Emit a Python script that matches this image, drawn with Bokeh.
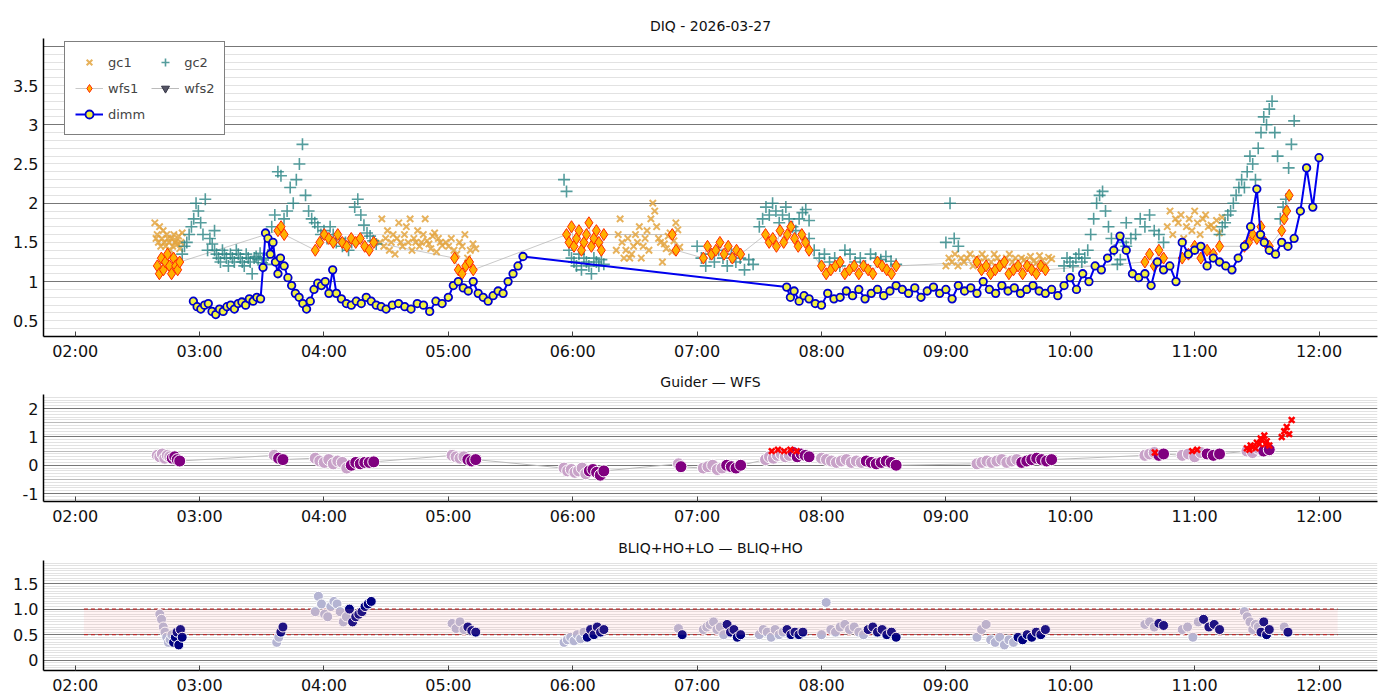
import numpy as np
from bokeh.plotting import figure
from bokeh.layouts import column
from bokeh.models import FixedTicker, Grid, Legend, LegendItem, Range1d, BoxAnnotation, Spacer
from bokeh.embed import file_html
from bokeh.resources import INLINE

# ---------------- data (hours UT, values) ----------------
hour_ticks = [2, 3, 4, 5, 6, 7, 8, 9, 10, 11, 12]
hour_labels = ["02:00", "03:00", "04:00", "05:00", "06:00", "07:00", "08:00", "09:00", "10:00", "11:00", "12:00"]

gc1_segments = [
    (2.64, 2.86, [1.75, 1.55, 1.6, 1.5, 1.7, 1.45, 1.55, 1.65, 1.5, 1.45, 1.6, 1.55, 1.5, 1.4, 1.55, 1.45, 1.6, 1.5,
                  1.52, 1.48, 1.58, 1.42, 1.5, 1.62]),
    (4.45, 4.95, [1.5, 1.8, 1.45, 1.55, 1.65, 1.4, 1.5, 1.6, 1.35, 1.55, 1.75, 1.5, 1.45, 1.6, 1.7, 1.5, 1.8, 1.4, 1.55, 1.5,
                  1.65, 1.45, 1.5, 1.6, 1.8, 1.52, 1.48, 1.42, 1.58, 1.62, 1.38, 1.55, 1.5, 1.46]),
    (4.98, 5.22, [1.5, 1.45, 1.55, 1.4, 1.35, 1.5, 1.45, 1.6, 1.3, 1.4, 1.48, 1.42]),
    (6.35, 6.86, [1.4, 1.6, 1.8, 1.5, 1.3, 1.4, 1.55, 1.3, 1.35, 1.45, 1.6, 1.5, 1.7, 1.3, 1.45, 1.55, 1.65, 1.4, 1.8, 2.0,
                  1.9, 1.7, 1.55, 1.5, 1.25, 1.48, 1.42, 1.58, 1.62, 1.38, 1.52, 1.75, 1.66, 1.44]),
    (9.0, 9.85, [1.2, 1.3, 1.25, 1.35, 1.2, 1.3, 1.25, 1.3, 1.35, 1.2, 1.3, 1.25, 1.35, 1.3, 1.2, 1.25, 1.35, 1.3, 1.25, 1.2,
                 1.3, 1.35, 1.25, 1.3, 1.2, 1.3, 1.28, 1.22, 1.32, 1.26, 1.24, 1.33, 1.27, 1.21, 1.31, 1.29]),
    (10.78, 11.22, [1.7, 1.9, 1.6, 1.8, 1.75, 1.85, 1.55, 1.7, 1.8, 1.65, 1.9, 1.75, 1.6, 1.8, 1.85, 1.7, 1.72, 1.68,
                    1.78, 1.62, 1.82]),
]
gc2_segments = [
    (2.86, 3.12, [1.35, 1.45, 1.5, 1.6, 1.7, 1.8, 2.0, 1.9, 1.75, 1.6, 2.05, 1.4, 1.55, 1.48, 1.65]),
    (3.12, 3.55, [1.4, 1.35, 1.3, 1.25, 1.4, 1.35, 1.3, 1.2, 1.35, 1.3, 1.25, 1.4, 1.35, 1.3, 1.25, 1.2, 1.35, 1.3, 1.25,
                  1.1, 1.3, 1.32, 1.28, 1.36, 1.24, 1.3, 1.22, 1.34]),
    (3.58, 4.42, [1.7, 1.85, 2.4, 2.35, 1.8, 1.9, 2.2, 2.0, 2.3, 2.5, 2.75, 2.1, 1.9, 1.8, 1.75, 1.7, 1.6, 1.65, 1.55, 1.7,
                  1.6, 1.5, 1.55, 1.45, 1.5, 1.4, 1.5, 1.95, 2.05, 1.85, 1.72, 1.62, 1.58, 1.52, 1.48]),
    (5.93, 6.25, [2.3, 2.15, 1.4, 1.3, 1.25, 1.2, 1.35, 1.15, 1.3, 1.25, 1.2, 1.1, 1.3, 1.25, 1.2, 1.28, 1.22]),
    (7.0, 7.45, [1.45, 1.3, 1.2, 1.35, 1.25, 1.4, 1.3, 1.2, 1.35, 1.25, 1.3, 1.15, 1.28, 1.22]),
    (7.5, 7.9, [1.7, 1.8, 1.95, 1.85, 2.0, 1.9, 1.75, 1.85, 1.95, 1.8, 1.7, 1.65, 1.8, 1.88, 1.92, 1.78]),
    (7.9, 8.6, [1.55, 1.4, 1.3, 1.35, 1.25, 1.3, 1.2, 1.4, 1.35, 1.25, 1.3, 1.2, 1.35, 1.3, 1.28, 1.32, 1.26, 1.22]),
    (9.0, 9.1, [1.5, 2.0, 1.55, 1.45]),
    (9.95, 10.45, [1.2, 1.3, 1.25, 1.2, 1.3, 1.35, 1.25, 1.3, 1.4, 1.6, 1.8, 2.0, 2.1, 2.15, 1.9, 1.7, 1.55, 1.4, 1.22,
                   1.28, 1.5, 1.75]),
    (10.45, 10.75, [1.45, 1.55, 1.6, 1.8, 1.7, 1.85, 1.65, 1.6, 1.5]),
    (11.2, 11.8, [1.6, 1.7, 1.75, 1.85, 1.9, 2.0, 2.1, 2.2, 2.3, 2.2, 2.4, 2.6, 2.5, 2.3, 2.7, 2.9, 3.1, 3.0, 3.2, 3.3,
                  2.9, 2.6, 1.8, 1.95, 2.05, 2.45, 2.75, 3.05]),
]
wfs1_segments = [
    (2.66, 2.84, [1.2, 1.1, 1.3, 1.15, 1.25, 1.35, 1.2, 1.1, 1.3, 1.2, 1.15, 1.25]),
    (3.63, 3.68, [1.65, 1.7, 1.6]),
    (3.93, 4.4, [1.4, 1.5, 1.6, 1.55, 1.5, 1.6, 1.5, 1.45, 1.55, 1.5, 1.55, 1.45, 1.4, 1.5]),
    (5.05, 5.2, [1.3, 1.15, 1.1, 1.2, 1.25, 1.15]),
    (5.95, 6.25, [1.6, 1.5, 1.7, 1.45, 1.55, 1.65, 1.4, 1.5, 1.6, 1.75, 1.45, 1.55, 1.65, 1.5, 1.4, 1.6]),
    (6.8, 6.83, [1.6, 1.4]),
    (7.05, 7.35, [1.3, 1.45, 1.35, 1.4, 1.5, 1.35, 1.45, 1.3, 1.4, 1.35]),
    (7.55, 7.9, [1.6, 1.5, 1.55, 1.45, 1.65, 1.5, 1.6, 1.7, 1.55, 1.45, 1.6, 1.5, 1.4]),
    (8.0, 8.6, [1.2, 1.1, 1.15, 1.2, 1.25, 1.1, 1.15, 1.2, 1.1, 1.2, 1.15, 1.1, 1.25, 1.2, 1.15, 1.1, 1.2]),
    (9.25, 9.8, [1.25, 1.15, 1.2, 1.1, 1.15, 1.2, 1.25, 1.1, 1.15, 1.2, 1.1, 1.2, 1.15, 1.1, 1.2, 1.15]),
    (10.6, 10.75, [1.25, 1.35, 1.2, 1.4, 1.3]),
    (10.9, 11.2, [1.3, 1.35, 1.45, 1.3, 1.4, 1.35, 1.45]),
    (11.4, 11.6, [1.45, 1.5, 1.6, 1.55, 1.7, 1.5, 1.45]),
    (11.7, 11.76, [1.65, 1.8, 1.9, 2.1]),
]
dimm_t = [2.95, 2.98, 3.01, 3.04, 3.07, 3.1, 3.13, 3.16, 3.19, 3.22, 3.25, 3.28, 3.31, 3.34, 3.37, 3.4, 3.43, 3.46, 3.49, 3.51, 3.53,
          3.55, 3.57, 3.59, 3.61, 3.63, 3.65, 3.68, 3.71, 3.74, 3.77, 3.8, 3.83, 3.86, 3.89, 3.92, 3.95, 3.98, 4.01, 4.04, 4.07,
          4.1, 4.14, 4.18, 4.22, 4.26, 4.3, 4.34, 4.38, 4.42, 4.46, 4.5, 4.55, 4.6, 4.65, 4.7, 4.75, 4.8, 4.85, 4.9, 4.95,
          5.0, 5.04, 5.08, 5.12, 5.16, 5.2, 5.24, 5.28, 5.32, 5.36, 5.4, 5.44, 5.48, 5.52, 5.56, 5.6,
          7.72, 7.75, 7.78, 7.82, 7.86, 7.9, 7.95, 8.0, 8.05, 8.1, 8.15, 8.2, 8.25, 8.3, 8.35, 8.4, 8.45, 8.5, 8.55, 8.6,
          8.65, 8.7, 8.75, 8.8, 8.85, 8.9, 8.95, 9.0, 9.05, 9.1, 9.15, 9.2, 9.25, 9.3, 9.35, 9.4, 9.45, 9.5, 9.55, 9.6,
          9.65, 9.7, 9.75, 9.8, 9.85, 9.9, 9.95, 10.0, 10.05, 10.1, 10.15, 10.2, 10.25, 10.3, 10.35, 10.4, 10.45, 10.5,
          10.55, 10.6, 10.65, 10.7, 10.75, 10.8, 10.85, 10.9, 10.95, 11.0, 11.05, 11.1, 11.15, 11.2, 11.25, 11.3, 11.35,
          11.4, 11.45, 11.5, 11.53, 11.56, 11.6, 11.65, 11.7, 11.75, 11.8, 11.85, 11.9, 11.95, 12.0]
dimm_v = [0.75, 0.68, 0.65, 0.7, 0.72, 0.62, 0.58, 0.65, 0.62, 0.68, 0.7, 0.65, 0.72, 0.74, 0.7, 0.78, 0.75, 0.8, 0.78, 1.18, 1.62,
          1.55, 1.35, 1.5, 1.25, 1.1, 1.3, 1.2, 1.05, 0.95, 0.85, 0.8, 0.72, 0.65, 0.75, 0.9, 0.98, 0.95, 1.0, 0.85, 1.15,
          0.85, 0.78, 0.72, 0.7, 0.75, 0.72, 0.8, 0.75, 0.7, 0.68, 0.65, 0.7, 0.72, 0.68, 0.65, 0.72, 0.7, 0.62, 0.75, 0.72,
          0.8, 0.95, 1.0, 0.92, 0.88, 1.0, 0.85, 0.8, 0.75, 0.82, 0.88, 0.85, 1.0, 1.1, 1.2, 1.32,
          0.93, 0.8, 0.88, 0.75, 0.82, 0.78, 0.72, 0.7, 0.85, 0.78, 0.8, 0.88, 0.82, 0.9, 0.78, 0.85, 0.9, 0.82, 0.88, 0.95,
          0.9, 0.85, 0.92, 0.8, 0.88, 0.93, 0.85, 0.9, 0.78, 0.95, 0.88, 0.92, 0.85, 1.0, 0.9, 0.85, 0.95, 0.88, 0.92, 0.85,
          0.9, 0.95, 0.88, 0.85, 0.9, 0.82, 0.95, 1.05, 0.9, 1.1, 1.0, 1.2, 1.15, 1.3, 1.4, 1.58, 1.4, 1.1,
          1.05, 1.1, 0.95, 1.25, 1.15, 1.2, 1.0, 1.5, 1.35, 1.4, 1.45, 1.2, 1.3, 1.25, 1.2, 1.15, 1.3,
          1.45, 1.7, 2.18, 1.6, 1.5, 1.4, 1.35, 1.5, 1.45, 1.55, 1.9, 2.45, 1.95, 2.58]

gw_segments = [
    (2.66, 2.84, [0.35, 0.3, 0.4, 0.25, 0.35, 0.3, 0.25, 0.3, 0.2, 0.15]),
    (3.6, 3.67, [0.35, 0.25, 0.2]),
    (3.93, 4.4, [0.25, 0.15, 0.1, 0.2, 0.05, 0.15, 0.1, -0.1, 0.0, 0.1, 0.05, 0.1, 0.1, 0.12]),
    (5.03, 5.22, [0.35, 0.3, 0.25, 0.3, 0.2, 0.15, 0.2]),
    (5.93, 6.25, [-0.1, -0.2, -0.15, -0.25, -0.2, -0.1, -0.3, -0.2, -0.15, -0.25, -0.35, -0.2]),
    (6.85, 6.87, [0.05, -0.05]),
    (7.05, 7.35, [-0.1, -0.05, 0.0, -0.15, -0.1, 0.0, -0.05, -0.1, 0.0]),
    (7.55, 7.9, [0.2, 0.3, 0.25, 0.35, 0.4, 0.3, 0.35, 0.45, 0.3, 0.4, 0.35, 0.3]),
    (8.0, 8.6, [0.25, 0.2, 0.15, 0.1, 0.15, 0.2, 0.1, 0.15, 0.1, 0.15, 0.1, 0.05, 0.1, 0.15, 0.1, 0.0]),
    (9.25, 9.85, [0.05, 0.1, 0.15, 0.1, 0.15, 0.2, 0.1, 0.15, 0.2, 0.1, 0.15, 0.2, 0.25, 0.2, 0.15, 0.2]),
    (10.6, 10.75, [0.35, 0.4, 0.45, 0.35, 0.4]),
    (10.9, 11.2, [0.35, 0.4, 0.3, 0.45, 0.4, 0.35, 0.4]),
    (11.42, 11.6, [0.5, 0.45, 0.6, 0.5, 0.55]),
]
gw_red_t = [7.6, 7.65, 7.7, 7.75, 7.8, 10.68, 10.98, 11.02, 11.42, 11.45, 11.47, 11.5, 11.52, 11.54, 11.56, 11.58, 11.6,
            11.44, 11.49, 11.53, 11.57, 11.7, 11.72, 11.74, 11.76, 11.78]
gw_red_v = [0.5, 0.55, 0.5, 0.55, 0.5, 0.45, 0.5, 0.55, 0.6, 0.7, 0.65, 0.8, 0.75, 0.9, 1.05, 0.85, 0.7,
            0.55, 0.6, 0.95, 0.75, 1.0, 1.2, 1.35, 1.1, 1.6]

bq_segments = [
    (2.68, 2.86, [0.9, 0.8, 0.65, 0.55, 0.45, 0.35, 0.4, 0.5, 0.35, 0.45, 0.55, 0.3, 0.6, 0.45]),
    (3.62, 3.67, [0.35, 0.45, 0.55, 0.65]),
    (3.93, 4.38, [0.95, 1.25, 1.1, 0.9, 0.85, 1.05, 1.15, 1.1, 0.95, 0.75, 0.85, 1.0, 0.75, 0.85, 0.9, 0.95, 1.05, 1.1, 1.15]),
    (5.03, 5.22, [0.72, 0.62, 0.75, 0.6, 0.65, 0.58, 0.55]),
    (5.93, 6.25, [0.35, 0.4, 0.45, 0.38, 0.5, 0.42, 0.55, 0.45, 0.6, 0.5, 0.65, 0.55, 0.6]),
    (6.85, 6.88, [0.62, 0.5]),
    (7.05, 7.35, [0.6, 0.65, 0.7, 0.75, 0.6, 0.65, 0.5, 0.7, 0.55, 0.6, 0.45, 0.5]),
    (7.5, 7.85, [0.5, 0.6, 0.55, 0.45, 0.6, 0.5, 0.55, 0.6, 0.5, 0.55, 0.5, 0.55]),
    (8.0, 8.6, [0.5, 1.13, 0.6, 0.55, 0.65, 0.7, 0.6, 0.65, 0.55, 0.5, 0.6, 0.65, 0.55, 0.6, 0.5, 0.55, 0.45]),
    (9.25, 9.8, [0.45, 0.6, 0.7, 0.4, 0.35, 0.45, 0.3, 0.4, 0.35, 0.45, 0.4, 0.5, 0.45, 0.55, 0.5, 0.6]),
    (10.6, 10.75, [0.7, 0.75, 0.65, 0.72, 0.68]),
    (10.9, 11.2, [0.6, 0.65, 0.45, 0.75, 0.8, 0.65, 0.7, 0.6]),
    (11.4, 11.6, [0.95, 0.85, 0.75, 0.6, 0.7, 0.65, 0.55, 0.75, 0.5, 0.6]),
    (11.72, 11.75, [0.65, 0.55]),
]
band_lo, band_hi = 0.5, 1.0
band_t0, band_t1 = 2.07, 12.15


def flatten(segments):
    ts, vs = [], []
    for t0, t1, vals in segments:
        ts.extend(np.linspace(t0, t1, len(vals)))
        vs.extend(vals)
    return ts, vs


def shade(segments, light, dark):
    cols = []
    for t0, t1, vals in segments:
        n = len(vals)
        cols.extend([light if i < max(1, int(n * 0.6)) else dark for i in range(n)])
    return cols


FONT = "DejaVu Sans"


def style(p, ymajor, yminor, ygrid_dark, ygrid_mid, ylabels):
    p.x_range = Range1d(1.745, 12.47)
    p.xaxis.ticker = FixedTicker(ticks=hour_ticks)
    p.xaxis.major_label_overrides = {t: l for t, l in zip(hour_ticks, hour_labels)}
    p.yaxis.ticker = FixedTicker(ticks=ymajor)
    if ylabels:
        p.yaxis.major_label_overrides = ylabels
    for ax in (p.xaxis, p.yaxis):
        ax.major_label_text_font = FONT
        ax.major_label_text_font_size = "16px"
        ax.major_label_text_color = "#111111"
        ax.minor_tick_line_color = None
        ax.axis_line_color = "black"
        ax.axis_line_width = 1.5
        ax.major_tick_out = 0
    p.xaxis.major_tick_in = 5
    p.xaxis.major_tick_line_color = "#444444"
    p.yaxis.major_tick_in = 0
    p.xgrid.grid_line_color = None
    p.ygrid.grid_line_color = None
    p.add_layout(Grid(dimension=1, ticker=FixedTicker(ticks=yminor), grid_line_color="#e2e2e2", grid_line_width=1), "center")
    p.add_layout(Grid(dimension=1, ticker=FixedTicker(ticks=ygrid_mid), grid_line_color="#bbbbbb", grid_line_width=1), "center")
    p.add_layout(Grid(dimension=1, ticker=FixedTicker(ticks=ygrid_dark), grid_line_color="#777777", grid_line_width=1.2), "center")
    p.outline_line_color = None
    p.title.align = "center"
    p.title.text_font = FONT
    p.title.text_font_size = "14px"
    p.title.text_font_style = "normal"
    p.title.text_color = "#111111"


common = dict(output_backend="svg", toolbar_location=None, frame_width=1334,
              min_border_left=43, min_border_right=6, background_fill_color="white")

# ---------------- panel 1 ----------------
p1 = figure(title="DIQ - 2026-03-27", frame_height=298, min_border_top=10, min_border_bottom=10,
            y_range=Range1d(0.3, 4.1), **common)
style(p1, [0.5, 1, 1.5, 2, 2.5, 3, 3.5], list(np.round(np.arange(0.3, 4.11, 0.1), 2)),
      [1, 2, 3, 4], [], {0.5: "0.5", 1: "1", 1.5: "1.5", 2: "2", 2.5: "2.5", 3: "3", 3.5: "3.5"})

g1t, g1v = flatten(gc1_segments)
g2t, g2v = flatten(gc2_segments)
w1t, w1v = flatten(wfs1_segments)

r_line = p1.line(w1t, w1v, line_color="#aaaaaa", line_width=0.8, line_alpha=0.8)
r_gc1 = p1.scatter(g1t, g1v, marker="x", size=9, line_color="#e3a540", line_width=2, line_alpha=0.85)
r_gc2 = p1.scatter(g2t, g2v, marker="cross", size=12, line_color="#2a8585", line_width=1.6, line_alpha=0.8)
r_w1 = p1.scatter(w1t, w1v, marker="diamond", size=12, fill_color="#ffb000", line_color="#ff2a00", line_width=1)
r_w2l = p1.line([0, 0.1], [-5, -5], line_color="#aaaaaa", line_width=0.8)
r_w2 = p1.scatter([0], [-5], marker="inverted_triangle", size=9, fill_color="#555566", line_color="#333344")
r_dl = p1.line(dimm_t, dimm_v, line_color="#0000ee", line_width=2)
r_dm = p1.scatter(dimm_t, dimm_v, marker="circle", size=7.5, fill_color="#f0f040", line_color="#0000cc", line_width=1.8)

legend = Legend(items=[
    LegendItem(label="gc1", renderers=[r_gc1]),
    LegendItem(label="wfs1", renderers=[r_line, r_w1]),
    LegendItem(label="dimm", renderers=[r_dl, r_dm]),
    LegendItem(label="gc2", renderers=[r_gc2]),
    LegendItem(label="wfs2", renderers=[r_w2l, r_w2]),
], ncols=2, location=(21, 201), border_line_color="black", border_line_width=1.2,
    label_text_font=FONT, label_text_font_size="13px", background_fill_alpha=1,
    margin=0, padding=10, spacing=6, glyph_width=28, label_height=20, label_standoff=5)
p1.add_layout(legend)

# ---------------- panel 2 ----------------
p2 = figure(title="Guider \u2014 WFS", frame_height=107, min_border_top=10, min_border_bottom=8,
            y_range=Range1d(-1.28, 2.5), **common)
style(p2, [-1, 0, 1, 2], list(np.round(np.arange(-1.2, 2.51, 0.1), 2)), [-1, 0, 1, 2], [-0.5, 0.5, 1.5],
      {-1: "-1", 0: "0", 1: "1", 2: "2"})
gwt, gwv = flatten(gw_segments)
p2.line(gwt, gwv, line_color="#bbbbbb", line_width=1)
p2.scatter(gwt, gwv, marker="circle", size=12, fill_color=shade(gw_segments, "#c8a2c8", "#800080"),
           line_color="white", line_width=1)
p2.scatter(gw_red_t, gw_red_v, marker="x", size=8, line_color="#ff0000", line_width=2.5)

# ---------------- panel 3 ----------------
p3 = figure(title="BLIQ+HO+LO \u2014 BLIQ+HO", frame_height=110, min_border_top=10, min_border_bottom=4,
            y_range=Range1d(-0.2, 1.95), **common)
style(p3, [0, 0.5, 1.0, 1.5], list(np.round(np.arange(-0.2, 1.96, 0.05), 2)), [0, 0.5, 1.0, 1.5], [],
      {0: "0", 0.5: "0.5", 1.0: "1.0", 1.5: "1.5"})
p3.add_layout(BoxAnnotation(left=band_t0, right=band_t1, bottom=band_lo, top=band_hi,
                            fill_color="#ff9999", fill_alpha=0.12, line_color=None))
p3.segment([band_t0, band_t0], [band_lo, band_hi], [band_t1, band_t1], [band_lo, band_hi],
           line_color="#b22222", line_dash="4 3", line_width=1.2)
bqt, bqv = flatten(bq_segments)
p3.scatter(bqt, bqv, marker="circle", size=10, fill_color=shade(bq_segments, "#b4b4d2", "#000080"),
           line_color="white", line_width=1)

layout = column(Spacer(height=10), p1, Spacer(height=3), p2, Spacer(height=4), p3, spacing=0)
open("out.html", "w").write(file_html(layout, INLINE))
